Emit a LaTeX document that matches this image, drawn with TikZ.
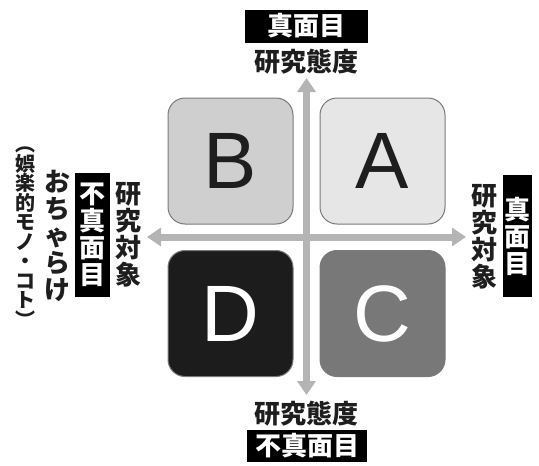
\documentclass[tikz,border=0pt]{standalone}
\usepackage{fontspec}
\setmainfont{Liberation Sans}
\newfontfamily\jp{Noto Sans CJK JP}
\usetikzlibrary{arrows.meta}

\definecolor{grigio}{HTML}{B4B4B4}
\definecolor{bordo}{HTML}{7A7A7A}
\definecolor{fa}{HTML}{E6E6E6}
\definecolor{fb}{HTML}{CFCFCF}
\definecolor{fc}{HTML}{787878}
\definecolor{fd}{HTML}{1C1C1C}
\definecolor{testo}{HTML}{1E1E1E}

\tikzset{
  asse/.style={line width=7pt,grigio,{Triangle[width=18pt,length=14pt]}-{Triangle[width=18pt,length=14pt]}},
  quadro/.style={draw=bordo,line width=1pt,rounded corners=17pt,minimum width=125pt,minimum height=126pt,inner sep=0pt,font=\fontsize{80}{80}\selectfont},
  scritta/.style={font=\jp\bfseries\fontsize{26}{27}\selectfont,text=testo,inner sep=0pt,align=center},
  nero/.style={fill=black,text=white,font=\jp\bfseries\fontsize{26}{27}\selectfont,inner sep=0pt,align=center}
}

\begin{document}
\begin{tikzpicture}[x=1pt,y=-1pt]
\useasboundingbox (0,0) rectangle (539,466);

\begin{scope}

\coordinate (o) at (306.5,237);
\coordinate (n) at (306.5,78);
\coordinate (s) at (306.5,395);
\coordinate (w) at (147,237);
\coordinate (e) at (466,237);

\draw[asse] (w) -- (e); % orizzontale
\draw[asse] (s) -- (n); % verticale

\node[quadro,fill=fb,text=testo] (b) at (230.5,161) {B};
\node[quadro,fill=fa,text=testo] (a) at (382.5,161) {A};
\node[quadro,fill=fd,text=white] (d) at (230.5,313.5) {D};
\node[quadro,fill=fc,text=white] (c) at (382.5,313.5) {C};
\end{scope}

% sopra
\node[nero,minimum width=123pt,minimum height=33pt] (nb) at (306.5,26) {真面目};
\node[scritta] (nt) at (306,62) {研究態度};

% sotto
\node[scritta] (st) at (306,414) {研究態度};
\node[nero,minimum width=120pt,minimum height=32pt] (sb) at (307,446) {不真面目};

% destra
\node[scritta] (et) at (484,237) {研\\究\\対\\象};
\node[nero,minimum width=29pt,minimum height=122pt] (eb) at (517.5,236) {真\\面\\目};

% sinistra
\node[scritta] (wt) at (128,235) {研\\究\\対\\象};
\node[nero,minimum width=35pt,minimum height=124pt] (wb) at (92.5,235) {不\\真\\面\\目};
\node[scritta] (wo) at (57,236) {お\\ち\\ゃ\\ら\\け};
\node[scritta,font=\jp\bfseries\fontsize{20}{19.5}\selectfont] (wp) at (26,237) {︵\\娯\\楽\\的\\モ\\ノ\\・\\コ\\ト\\︶};

\end{tikzpicture}
\end{document}
